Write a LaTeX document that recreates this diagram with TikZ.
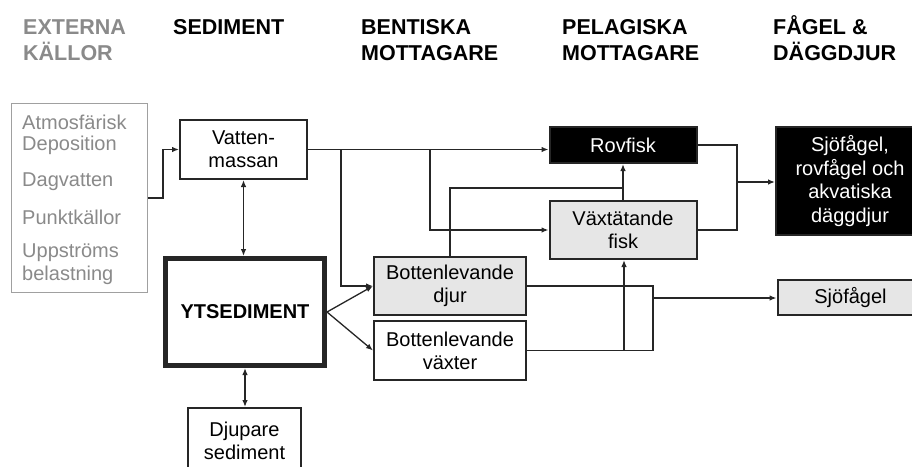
\documentclass[tikz,border=0pt]{standalone}
\usepackage{fontspec}
\setmainfont{Liberation Sans}
\usetikzlibrary{arrows.meta}
\definecolor{extgray}{HTML}{8A8A8A}
\definecolor{extline}{HTML}{A0A0A0}
\definecolor{boxgray}{HTML}{E6E6E6}
\definecolor{linec}{HTML}{262626}
\newcommand{\bfnt}{\fontsize{20}{23}\selectfont}
\newcommand{\hdfnt}{\fontsize{21.5}{25}\selectfont\bfseries}
\begin{document}
\begin{tikzpicture}[x=1pt,y=-1pt,
  box/.style={draw=linec, line width=2pt, rectangle, inner sep=0pt, align=center, font=\bfnt, text=black},
  hdr/.style={anchor=base west, inner sep=0pt, font=\hdfnt, text=black},
  exttext/.style={anchor=west, inner sep=0pt, font=\bfnt, text=extgray},
  conn/.style={draw=linec, line width=1.3pt},
  arr/.style={-{Latex[length=7pt,width=5.5pt]}},
  darr/.style={{Latex[length=7pt,width=5.5pt]}-{Latex[length=7pt,width=5.5pt]}}]
\useasboundingbox (0,0) rectangle (912,466);
\clip (0,0) rectangle (912,466);
\fill[white] (0,0) rectangle (912,466);

% headers
\node[hdr, text=extgray] (h1a) at (23,34) {EXTERNA};
\node[hdr, text=extgray] (h1b) at (23,60) {KÄLLOR};
\node[hdr] (h2) at (173,34) {SEDIMENT};
\node[hdr] (h3a) at (361,34) {BENTISKA};
\node[hdr] (h3b) at (361,60) {MOTTAGARE};
\node[hdr] (h4a) at (562,34) {PELAGISKA};
\node[hdr] (h4b) at (562,60) {MOTTAGARE};
\node[hdr] (h5a) at (773,34) {FÅGEL \&};
\node[hdr] (h5b) at (773,60) {DÄGGDJUR};

% external sources
\node[draw=extline, line width=1.5pt, rectangle, inner sep=0pt, minimum width=136pt, minimum height=189pt] (ext) at (79.5,198) {};
\node[exttext] (e1) at (22,122) {Atmosfärisk};
\node[exttext] (e2) at (22,145) {Deposition};
\node[exttext] (e3) at (22,182) {Dagvatten};
\node[exttext] (e4) at (22,217) {Punktkällor};
\node[exttext] (e5) at (22,253) {Uppströms};
\node[exttext] (e6) at (22,275) {belastning};

% boxes
\node[box, minimum width=127pt, minimum height=59pt] (vm) at (243.5,149.5) {Vatten-\\massan};
\node[box, line width=5pt, minimum width=159pt, minimum height=107pt, font=\bfnt\bfseries] (yts) at (245,312) {YTSEDIMENT};
\node[box, minimum width=113pt, minimum height=66pt] (djup) at (244.5,441) {Djupare\\sediment};
\node[box, fill=boxgray, minimum width=152pt, minimum height=58pt] (bdj) at (450,286) {Bottenlevande\\djur};
\node[box, minimum width=152pt, minimum height=59pt] (bvx) at (450,350.5) {Bottenlevande\\växter};
\node[box, fill=black, text=white, minimum width=147pt, minimum height=36pt] (rov) at (623,145) {Rovfisk};
\node[box, fill=boxgray, minimum width=147pt, minimum height=58pt] (vfi) at (623,230) {Växtätande\\fisk};
\node[box, fill=black, text=white, minimum width=148pt, minimum height=108pt, font=\fontsize{20}{23.5}\selectfont] (big) at (850,181) {Sjöfågel,\\rovfågel och\\akvatiska\\däggdjur};
\node[box, fill=boxgray, minimum width=146pt, minimum height=35pt] (sjo) at (850.5,297.5) {Sjöfågel};

% junction coordinates
\coordinate (j0) at (163,198);
\coordinate (j1) at (341,149.5);
\coordinate (j2) at (430,149.5);
\coordinate (j3) at (623,188);
\coordinate (j4) at (737,182);
\coordinate (j5) at (653,298);
\coordinate (j6) at (624,350.5);

% connectors
\draw[conn, arr] (ext.east) -- (j0) |- (vm.west);
\draw[conn, darr] (vm.south) -- (vm.south |- yts.north);
\draw[conn, darr] (yts.south) -- (yts.south |- djup.north);
\draw[conn, arr] (yts.east) -- (bdj.west);
\draw[conn, arr] (yts.east) -- (bvx.west);
\draw[conn, arr] (vm.east) -- (vm.east -| rov.west);
\draw[conn, arr] (j1) |- (bdj.west);
\draw[conn, arr] (j2) |- (vfi.west);
\draw[conn] (bdj.north) |- (j3);
\draw[conn, arr] (vfi.north) -- (vfi.north |- rov.south);
\draw[conn] (rov.east) -| (j4);
\draw[conn] (vfi.east) -| (j4);
\draw[conn, arr] (j4) -- (j4 -| big.west);
\draw[conn] (bdj.east) -| (j5);
\draw[conn] (bvx.east) -| (j5);
\draw[conn, arr] (j5) -- (j5 -| sjo.west);
\draw[conn, arr] (j6) -- (j6 |- vfi.south);
\end{tikzpicture}
\end{document}
